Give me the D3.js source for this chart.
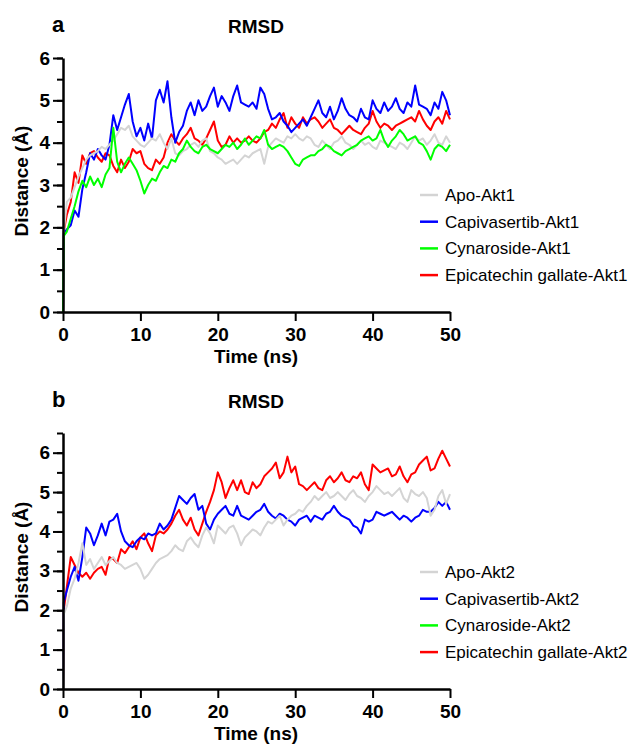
<!DOCTYPE html>
<html>
<head>
<meta charset="utf-8">
<script src="https://cdn.jsdelivr.net/npm/d3@7"></script>
<style>
  body { margin: 0; background: #fff; }
  svg { display: block; font-family: "Liberation Sans", Arial, Helvetica, sans-serif; }
</style>
</head>
<body>
<div id="chart"></div>
<script>
// time grid (ns): 0, 0.1, then every 0.5 ns up to 50
const time = [0, 0.1].concat(d3.range(1, 101).map(k => k * 0.5));

// ---- panel a : Akt1 ----
const akt1Apo = [0, 1.9,
  2.6, 2.7, 2.95, 3.2, 3.4, 3.6, 3.7, 3.75, 3.8, 3.9,
  3.85, 3.95, 4.05, 4.2, 4.35, 4.3, 4.4, 4.15, 4.05, 3.95,
  3.9, 4.0, 4.1, 4.05, 4.2, 4.0, 3.85, 4.1, 3.75, 3.7,
  3.8, 3.85, 3.95, 4.0, 3.9, 4.05, 4.1, 3.8, 3.75, 3.65,
  3.6, 3.5, 3.55, 3.6, 3.5, 3.6, 3.7, 3.65, 3.75, 3.8,
  3.85, 3.5, 3.9, 4.0, 4.1, 4.05, 4.0, 4.15, 4.1, 4.2,
  4.1, 4.05, 4.15, 4.1, 3.95, 3.9, 4.05, 3.95, 3.85, 4.0,
  4.05, 4.15, 4.0, 3.95, 3.85, 3.95, 4.05, 3.95, 4.0, 3.9,
  3.85, 4.05, 4.0, 3.95, 3.9, 3.85, 4.0, 3.95, 3.85, 4.0,
  4.15, 4.05, 4.1, 3.95, 4.05, 4.2, 4.0, 3.95, 4.15, 4.0];
const akt1Capi = [0, 1.85,
  1.95, 2.05, 2.4, 2.25, 2.9, 3.3, 3.75, 3.6, 3.85, 3.7,
  3.6, 3.95, 4.65, 4.3, 4.6, 4.9, 5.15, 4.5, 4.15, 4.35,
  4.05, 4.45, 4.1, 5.0, 5.25, 4.95, 5.45, 4.6, 4.0, 4.25,
  4.4, 4.75, 4.95, 4.65, 5.0, 4.75, 4.85, 5.1, 5.3, 4.85,
  5.1, 4.95, 4.75, 5.1, 5.35, 4.95, 4.9, 4.85, 4.95, 4.8,
  5.3, 5.15, 4.8, 4.55, 4.6, 4.7, 4.5, 4.4, 4.25, 4.35,
  4.45, 4.55, 4.4, 4.6, 4.8, 5.0, 4.7, 4.6, 4.85, 4.55,
  4.75, 5.05, 4.8, 4.65, 4.6, 4.5, 4.8, 4.6, 4.55, 5.0,
  4.8, 4.7, 4.95, 4.75, 4.85, 5.05, 4.8, 4.7, 4.95, 4.85,
  5.35, 4.9, 4.85, 4.8, 4.65, 4.95, 4.8, 5.2, 5.0, 4.65];
const akt1Cyna = [0, 1.8,
  1.9, 2.2, 2.5, 2.85, 3.1, 2.95, 3.2, 3.0, 3.15, 2.95,
  3.25, 3.4, 4.35, 3.55, 3.3, 3.5, 3.65, 3.5, 3.35, 3.1,
  2.8, 3.0, 3.15, 3.1, 3.3, 3.45, 3.4, 3.6, 3.55, 3.75,
  3.85, 4.05, 3.9, 3.8, 3.75, 3.9, 3.95, 3.85, 3.8, 3.75,
  3.85, 3.95, 3.9, 4.0, 3.85, 3.95, 4.1, 3.95, 4.05, 4.15,
  4.1, 4.3, 3.95, 3.85, 3.9, 3.95, 3.9, 3.8, 3.65, 3.5,
  3.45, 3.6, 3.65, 3.7, 3.7, 3.8, 3.85, 3.95, 3.9, 3.8,
  3.75, 3.7, 3.8, 3.85, 3.9, 3.95, 4.05, 4.1, 4.15, 4.05,
  4.1, 4.3, 4.05, 3.9, 4.05, 4.15, 4.3, 4.2, 4.05, 4.1,
  4.15, 4.0, 3.95, 3.8, 3.6, 3.85, 3.95, 3.9, 3.8, 3.95];
const akt1Ecg = [0, 1.9,
  2.3, 2.6, 3.3, 3.05, 3.7, 3.5, 3.75, 3.8, 3.65, 3.55,
  3.75, 3.7, 3.45, 3.3, 3.6, 3.4, 3.55, 3.85, 3.75, 3.8,
  3.5, 3.4, 3.35, 3.6, 3.5, 3.65, 4.0, 4.2, 4.05, 3.95,
  4.1, 4.2, 4.35, 4.1, 4.05, 3.95, 4.1, 4.3, 4.5, 4.05,
  3.9, 3.95, 4.15, 4.0, 4.1, 4.0, 4.05, 4.15, 4.05, 4.0,
  4.1, 4.25, 4.3, 4.45, 4.35, 4.55, 4.7, 4.35, 4.6, 4.45,
  4.35, 4.6, 4.45, 4.55, 4.6, 4.5, 4.35, 4.45, 4.55, 4.35,
  4.3, 4.2, 4.3, 4.4, 4.3, 4.25, 4.2, 4.35, 4.45, 4.75,
  4.5, 4.35, 4.45, 4.4, 4.3, 4.4, 4.45, 4.5, 4.55, 4.6,
  4.5, 4.75, 4.55, 4.4, 4.3, 4.5, 4.6, 4.45, 4.75, 4.55];

// ---- panel b : Akt2 ----
const akt2Apo = [0, 1.9,
  2.1, 2.55, 2.8, 3.2, 3.7, 3.15, 3.3, 3.05, 3.2, 3.35,
  3.15, 3.25, 3.35, 3.2, 3.15, 3.05, 3.1, 3.15, 3.2, 3.05,
  2.8, 2.9, 3.05, 3.2, 3.3, 3.35, 3.4, 3.5, 3.65, 3.55,
  3.5, 3.75, 3.85, 3.7, 3.6, 3.9, 4.1, 3.95, 3.7, 4.15,
  4.05, 3.95, 4.1, 4.15, 3.95, 3.65, 3.85, 3.95, 4.05, 4.0,
  3.9, 4.1, 4.25, 4.2, 4.3, 4.4, 4.15, 4.3, 4.4, 4.45,
  4.55, 4.5, 4.65, 4.75, 4.9, 4.8, 4.9, 5.0, 4.85, 4.9,
  5.0, 4.9, 4.8, 4.95, 5.05, 4.9, 4.85, 4.75, 4.9, 5.0,
  5.15, 5.05, 4.95, 5.0, 4.9, 5.0, 5.1, 4.85, 4.75, 5.05,
  4.95, 4.9, 5.0, 4.85, 4.4, 4.55, 4.9, 5.05, 4.7, 4.95];
const akt2Capi = [0, 2.2,
  2.5, 2.85, 3.1, 2.75, 3.35, 4.1, 3.95, 3.65, 3.9, 4.2,
  3.9, 4.25, 4.3, 4.45, 4.0, 3.75, 3.65, 3.6, 3.75, 3.85,
  3.8, 3.95, 3.9, 3.95, 4.2, 4.05, 4.15, 4.3, 4.6, 4.9,
  4.8, 4.7, 4.85, 4.95, 4.55, 4.65, 4.2, 4.05, 4.3, 4.45,
  4.55, 4.65, 4.45, 4.4, 4.65, 4.4, 4.35, 4.3, 4.4, 4.5,
  4.55, 4.7, 4.5, 4.4, 4.33, 4.45, 4.4, 4.3, 4.25, 4.15,
  4.3, 4.35, 4.4, 4.25, 4.4, 4.35, 4.3, 4.45, 4.5, 4.65,
  4.5, 4.4, 4.35, 4.3, 4.15, 4.1, 3.95, 4.3, 4.25, 4.3,
  4.5, 4.45, 4.4, 4.45, 4.5, 4.4, 4.3, 4.4, 4.35, 4.25,
  4.35, 4.4, 4.55, 4.5, 4.5, 4.6, 4.75, 4.65, 4.75, 4.55];
const akt2Cyna = []; // not visible in the figure
const akt2Ecg = [0, 2.0,
  2.6, 3.35, 3.15, 2.95, 2.85, 2.95, 2.8, 2.95, 3.05, 3.1,
  2.9, 3.35, 3.3, 3.2, 3.55, 3.45, 3.6, 3.75, 3.55, 3.85,
  3.95, 3.7, 3.5, 3.9, 4.0, 3.95, 4.05, 4.2, 4.4, 4.55,
  4.3, 4.15, 4.35, 4.05, 3.9, 4.2, 4.5, 4.75, 5.05, 5.5,
  5.25, 4.85, 5.1, 5.3, 5.05, 5.3, 5.0, 4.95, 5.25, 5.1,
  5.2, 5.4, 5.5, 5.6, 5.75, 5.35, 5.5, 5.9, 5.5, 5.65,
  5.2, 5.15, 5.05, 5.15, 5.25, 5.1, 5.05, 5.3, 5.4, 5.25,
  5.35, 5.5, 5.3, 5.25, 5.4, 5.35, 5.5, 5.2, 5.05, 5.7,
  5.6, 5.5, 5.55, 5.6, 5.4, 5.45, 5.65, 5.4, 5.25, 5.45,
  5.5, 5.7, 5.8, 5.9, 5.55, 5.6, 5.85, 6.05, 5.85, 5.65];

const xTicks = [0, 10, 20, 30, 40, 50];
const colors = ["#d4d4d4", "#0000ff", "#00ff00", "#ff0000"];

const width = 631, height = 749;
const svg = d3.select("#chart").append("svg")
  .attr("width", width)
  .attr("height", height);

const x = d3.scaleLinear().domain([0, 50]).range([63, 450]);

function drawPanel(p) {
  const y = d3.scaleLinear().domain([0, p.ymax]).range([p.bottom, p.top]);
  const g = svg.append("g");

  // lines, bottom to top
  const line = d3.line()
    .x((d, i) => x(time[i]))
    .y(d => y(d));
  const order = [3, 1, 0, 2];
  order.forEach(k => {
    if (!p.series[k].length) return;
    g.append("path")
      .datum(p.series[k])
      .attr("fill", "none")
      .attr("stroke", colors[k])
      .attr("stroke-width", 2)
      .attr("stroke-linejoin", "round")
      .attr("d", line);
  });

  // y axis, minor ticks then major
  g.append("g")
    .attr("transform", `translate(${x(0)},0)`)
    .call(d3.axisLeft(y).tickValues(d3.range(0, p.ymax + 0.01, 0.5)).tickSize(6).tickFormat(""))
    .call(a => a.select(".domain").remove())
    .selectAll("line").attr("stroke", "#000").attr("stroke-width", 2);
  const ya = g.append("g")
    .attr("transform", `translate(${x(0)},0)`)
    .call(d3.axisLeft(y).tickValues(d3.range(0, Math.floor(p.ymax) + 1)).tickSize(10).tickSizeOuter(0).tickPadding(3).tickFormat(d3.format("d")));
  ya.select(".domain").attr("stroke-width", 2.5);
  ya.selectAll("line").attr("stroke-width", 2);
  ya.selectAll("text").attr("font-size", 19).attr("font-weight", "bold").attr("fill", "#000")
    .attr("font-family", "Liberation Sans, Arial, sans-serif");

  // x axis
  const xa = g.append("g")
    .attr("transform", `translate(0,${p.bottom})`)
    .call(d3.axisBottom(x).tickValues(xTicks).tickSize(9).tickSizeOuter(0).tickPadding(7));
  xa.select(".domain").attr("stroke-width", 2.5);
  xa.selectAll("line").attr("stroke-width", 2);
  xa.selectAll("text").attr("font-size", 19).attr("font-weight", "bold").attr("fill", "#000")
    .attr("font-family", "Liberation Sans, Arial, sans-serif");

  // labels
  g.append("text").attr("x", 52).attr("y", p.top - 26)
    .attr("font-size", 22).attr("font-weight", "bold").text(p.letter);
  g.append("text").attr("x", 256).attr("y", p.top - 25)
    .attr("text-anchor", "middle").attr("font-size", 19).attr("font-weight", "bold").text("RMSD");
  g.append("text").attr("x", 256).attr("y", p.bottom + 51)
    .attr("text-anchor", "middle").attr("font-size", 19).attr("font-weight", "bold").text("Time (ns)");
  g.append("text")
    .attr("transform", `translate(28,${(p.top + p.bottom) / 2 - 4}) rotate(-90)`)
    .attr("text-anchor", "middle").attr("font-size", 19).attr("font-weight", "bold").text("Distance (Å)");

  // legend
  const lg = g.append("g").attr("transform", `translate(420,${p.legendTop})`);
  p.labels.forEach((lab, i) => {
    const row = lg.append("g").attr("transform", `translate(0,${i * 26.7})`);
    row.append("line").attr("x1", 0).attr("x2", 18).attr("y1", 0).attr("y2", 0)
      .attr("stroke", colors[i]).attr("stroke-width", 2.5);
    row.append("text").attr("x", 25).attr("y", 6).attr("font-size", 17).text(lab);
  });
}

drawPanel({
  letter: "a", top: 58, bottom: 312, ymax: 6, legendTop: 195,
  series: [akt1Apo, akt1Capi, akt1Cyna, akt1Ecg],
  labels: ["Apo-Akt1", "Capivasertib-Akt1", "Cynaroside-Akt1", "Epicatechin gallate-Akt1"]
});
drawPanel({
  letter: "b", top: 433, bottom: 689, ymax: 6.5, legendTop: 572,
  series: [akt2Apo, akt2Capi, akt2Cyna, akt2Ecg],
  labels: ["Apo-Akt2", "Capivasertib-Akt2", "Cynaroside-Akt2", "Epicatechin gallate-Akt2"]
});
</script>
</body>
</html>
